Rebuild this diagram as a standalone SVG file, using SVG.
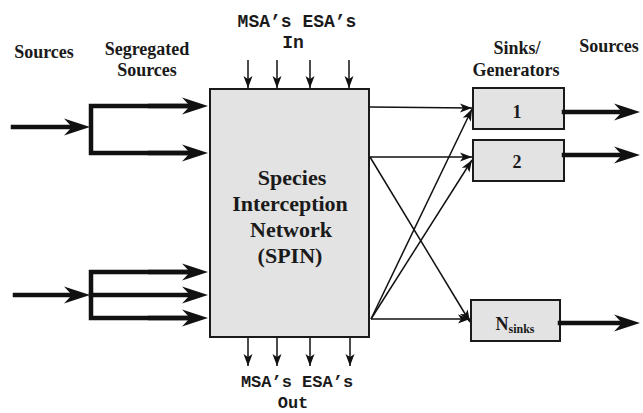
<svg xmlns="http://www.w3.org/2000/svg" width="643" height="413" viewBox="0 0 643 413">
<style>
.lbl{font-family:"Liberation Serif","Times New Roman",serif;font-weight:bold;font-size:18px;fill:#1a1a1a;text-anchor:middle}
.big{font-size:22px}
.mono{font-family:"Liberation Mono","Courier New",monospace;font-weight:bold;font-size:18px;fill:#1a1a1a;text-anchor:middle}
.sm{font-size:17px}
.box{fill:#e3e3e3;stroke:#1a1a1a;stroke-width:2}
.thick{fill:none;stroke:#111;stroke-width:4.5;stroke-linecap:square}
.thin{fill:none;stroke:#111;stroke-width:1.5}
</style>
<defs>
<marker id="ah" viewBox="-28 -10 30 20" refX="-18" refY="0" markerWidth="30" markerHeight="20" markerUnits="userSpaceOnUse" orient="auto">
<path d="M0,0 L-26,-8.5 L-18,0 L-26,8.5 Z" fill="#111"/>
</marker>
<marker id="at" viewBox="-14 -6 15 12" refX="0" refY="0" markerWidth="15" markerHeight="12" markerUnits="userSpaceOnUse" orient="auto">
<path d="M0,0 L-12,-4.5 L-9,0 L-12,4.5 Z" fill="#111"/>
</marker>
</defs>

<g id="labels">
<text class="lbl" x="44" y="58">Sources</text>
<text class="lbl" x="147" y="55">Segregated</text>
<text class="lbl" x="147" y="76">Sources</text>
<text class="mono" x="297" y="27">MSA’s ESA’s</text>
<text class="mono" x="293" y="48">In</text>
<text class="lbl" x="517" y="54">Sinks/</text>
<text class="lbl" x="516" y="76">Generators</text>
<text class="lbl" x="609" y="52">Sources</text>
<text class="mono sm" x="297" y="387">MSA’s ESA’s</text>
<text class="mono sm" x="293" y="408">Out</text>
</g>

<g id="spin">
<rect class="box" x="210" y="89" width="159" height="248"/>
<text class="lbl big" x="292" y="185">Species</text>
<text class="lbl big" x="290" y="211">Interception</text>
<text class="lbl big" x="291" y="237">Network</text>
<text class="lbl big" x="290" y="263">(SPIN)</text>
</g>

<g id="sink1">
<rect class="box" x="473" y="88" width="91" height="41"/>
<text class="lbl" x="517" y="118">1</text>
</g>
<g id="sink2">
<rect class="box" x="473" y="140" width="91" height="41"/>
<text class="lbl" x="517" y="168">2</text>
</g>
<g id="sinkN">
<rect class="box" x="471" y="300" width="89" height="41"/>
<text class="lbl" x="515" y="330">N<tspan font-size="12" dy="3">sinks</tspan></text>
</g>

<g id="connectors">
<line class="thick" x1="13" y1="127" x2="72" y2="127" marker-end="url(#ah)"/>
<polyline class="thick" points="190,106 91,106 91,153 190,153" stroke-linecap="butt" stroke-linejoin="miter"/>
<line class="thick" x1="150" y1="106" x2="190" y2="106" marker-end="url(#ah)"/>
<line class="thick" x1="150" y1="153" x2="190" y2="153" marker-end="url(#ah)"/>
<line class="thick" x1="15" y1="295" x2="72" y2="295" marker-end="url(#ah)"/>
<polyline class="thick" points="190,272 91,272 91,318 190,318" stroke-linecap="butt" stroke-linejoin="miter"/>
<line class="thick" x1="91" y1="295" x2="190" y2="295" marker-end="url(#ah)"/>
<line class="thick" x1="150" y1="272" x2="190" y2="272" marker-end="url(#ah)"/>
<line class="thick" x1="150" y1="318" x2="190" y2="318" marker-end="url(#ah)"/>
<line class="thin" x1="248" y1="60" x2="248" y2="88" marker-end="url(#at)"/>
<line class="thin" x1="277" y1="60" x2="277" y2="88" marker-end="url(#at)"/>
<line class="thin" x1="310" y1="60" x2="310" y2="88" marker-end="url(#at)"/>
<line class="thin" x1="349" y1="60" x2="349" y2="88" marker-end="url(#at)"/>
<line class="thin" x1="248" y1="338" x2="248" y2="366" marker-end="url(#at)"/>
<line class="thin" x1="277" y1="338" x2="277" y2="366" marker-end="url(#at)"/>
<line class="thin" x1="310" y1="338" x2="310" y2="366" marker-end="url(#at)"/>
<line class="thin" x1="350" y1="338" x2="350" y2="366" marker-end="url(#at)"/>
<line class="thin" x1="370" y1="107" x2="472" y2="108" marker-end="url(#at)"/>
<line class="thin" x1="370" y1="157" x2="472" y2="157" marker-end="url(#at)"/>
<line class="thin" x1="370" y1="157" x2="470" y2="322" marker-end="url(#at)"/>
<line class="thin" x1="371" y1="319" x2="470" y2="319" marker-end="url(#at)"/>
<line class="thin" x1="371" y1="319" x2="472" y2="109" marker-end="url(#at)"/>
<line class="thin" x1="371" y1="319" x2="472" y2="160" marker-end="url(#at)"/>
<line class="thick" x1="564" y1="112" x2="622" y2="112" marker-end="url(#ah)"/>
<line class="thick" x1="564" y1="155" x2="622" y2="155" marker-end="url(#ah)"/>
<line class="thick" x1="560" y1="323" x2="622" y2="323" marker-end="url(#ah)"/>
</g>
</svg>
